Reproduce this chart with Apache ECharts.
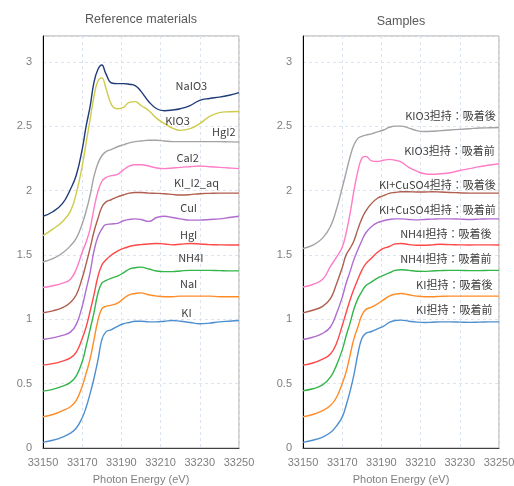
<!DOCTYPE html>
<html>
<head>
<meta charset="utf-8">
<script src="https://cdn.jsdelivr.net/npm/echarts@6/dist/echarts.min.js"></script>
<style>
  html, body { margin: 0; padding: 0; background: #fff; }
  #chart { width: 514px; height: 486px; }
</style>
</head>
<body>
<div id="chart"></div>
<script>
// photon energy grid (eV)
const energy = [33150,33155,33160,33164,33167,33170,33172,33174,33176,33178,33180,33182,33185,33188,33191,33194,33197,33200,33204,33208,33212,33216,33220,33225,33230,33235,33240,33245,33250];

// Reference materials (offset spectra, bottom to top)
const refNames = ['KI','NaI','NH4I','HgI','CuI','KI_I2_aq','CaI2','HgI2','KIO3','NaIO3'];
const refKI    = [0.044,0.06,0.085,0.115,0.155,0.235,0.315,0.42,0.54,0.68,0.84,0.90,0.92,0.945,0.965,0.975,0.985,0.985,0.98,0.98,0.985,0.99,0.985,0.975,0.965,0.97,0.98,0.985,0.99];
const refNaI   = [0.243,0.26,0.29,0.32,0.37,0.48,0.58,0.69,0.84,0.99,1.08,1.10,1.11,1.125,1.16,1.19,1.20,1.205,1.19,1.18,1.175,1.175,1.18,1.18,1.18,1.18,1.175,1.175,1.175];
const refNH4I  = [0.442,0.455,0.48,0.51,0.56,0.67,0.79,0.92,1.05,1.20,1.28,1.30,1.32,1.335,1.36,1.39,1.40,1.405,1.39,1.375,1.37,1.37,1.375,1.38,1.38,1.38,1.378,1.376,1.376];
const refHgI   = [0.644,0.655,0.675,0.70,0.745,0.85,0.94,1.06,1.19,1.33,1.42,1.46,1.50,1.53,1.55,1.565,1.575,1.58,1.585,1.588,1.585,1.578,1.582,1.588,1.585,1.58,1.578,1.577,1.577];
const refCuI   = [0.843,0.855,0.875,0.90,0.96,1.10,1.23,1.36,1.53,1.64,1.70,1.735,1.74,1.745,1.765,1.775,1.78,1.775,1.76,1.79,1.80,1.79,1.78,1.77,1.77,1.775,1.78,1.79,1.80];
const refKII2  = [1.05,1.065,1.09,1.13,1.19,1.32,1.43,1.55,1.68,1.78,1.87,1.91,1.93,1.95,1.965,1.98,1.985,1.985,1.98,1.978,1.975,1.97,1.965,1.968,1.975,1.978,1.98,1.98,1.98];
const refCaI2  = [1.247,1.26,1.28,1.31,1.39,1.52,1.60,1.70,1.86,1.99,2.07,2.10,2.115,2.125,2.16,2.19,2.20,2.20,2.19,2.175,2.17,2.175,2.18,2.185,2.19,2.185,2.18,2.175,2.17];
const refHgI2  = [1.445,1.47,1.515,1.57,1.63,1.74,1.84,1.96,2.11,2.21,2.27,2.30,2.32,2.34,2.355,2.37,2.38,2.385,2.39,2.39,2.385,2.38,2.38,2.38,2.38,2.38,2.38,2.378,2.376];
const refKIO3  = [1.65,1.70,1.76,1.84,1.98,2.19,2.37,2.55,2.73,2.85,2.875,2.80,2.665,2.635,2.645,2.685,2.69,2.66,2.62,2.56,2.52,2.485,2.467,2.48,2.52,2.575,2.605,2.612,2.614];
const refNaIO3 = [1.80,1.835,1.90,2.01,2.12,2.32,2.50,2.65,2.84,2.94,2.975,2.91,2.835,2.83,2.83,2.825,2.815,2.77,2.69,2.635,2.62,2.625,2.635,2.66,2.70,2.715,2.725,2.74,2.76];

// Samples (bottom to top)
const smpNames = ['KI担持：吸着前','KI担持：吸着後','NH4I担持：吸着前','NH4I担持：吸着後','KI+CuSO4担持：吸着前','KI+CuSO4担持：吸着後','KIO3担持：吸着前','KIO3担持：吸着後'];
const smpKIBefore    = [0.044,0.06,0.085,0.12,0.17,0.24,0.33,0.44,0.57,0.73,0.85,0.89,0.905,0.925,0.945,0.975,0.99,0.993,0.985,0.978,0.975,0.977,0.98,0.98,0.978,0.976,0.978,0.98,0.98];
const smpKIAfter     = [0.243,0.26,0.29,0.33,0.39,0.50,0.59,0.72,0.85,0.94,1.03,1.075,1.095,1.12,1.15,1.18,1.195,1.20,1.19,1.18,1.175,1.175,1.178,1.18,1.18,1.18,1.18,1.18,1.18];
const smpNH4IBefore  = [0.445,0.46,0.49,0.55,0.64,0.76,0.87,0.97,1.08,1.16,1.215,1.26,1.29,1.32,1.34,1.36,1.38,1.385,1.38,1.373,1.372,1.375,1.378,1.38,1.38,1.378,1.378,1.38,1.38];
const smpNH4IAfter   = [0.644,0.66,0.69,0.73,0.81,0.95,1.05,1.15,1.235,1.31,1.38,1.43,1.475,1.52,1.55,1.565,1.585,1.588,1.58,1.575,1.575,1.578,1.582,1.58,1.578,1.577,1.578,1.578,1.577];
const smpCuBefore    = [0.843,0.86,0.89,0.94,1.04,1.17,1.28,1.37,1.465,1.54,1.61,1.67,1.72,1.75,1.765,1.775,1.78,1.78,1.775,1.772,1.775,1.778,1.78,1.78,1.778,1.775,1.778,1.78,1.78];
const smpCuAfter     = [1.05,1.07,1.10,1.16,1.27,1.40,1.50,1.55,1.61,1.70,1.78,1.84,1.90,1.94,1.96,1.978,1.985,1.99,1.99,1.988,1.988,1.99,1.988,1.985,1.982,1.98,1.98,1.98,1.98];
const smpKIO3Before  = [1.25,1.27,1.31,1.41,1.48,1.56,1.67,1.82,2.00,2.15,2.25,2.265,2.23,2.225,2.235,2.242,2.235,2.222,2.18,2.15,2.13,2.126,2.13,2.138,2.155,2.17,2.185,2.198,2.208];
const smpKIO3After   = [1.55,1.575,1.63,1.72,1.85,2.02,2.14,2.26,2.355,2.405,2.42,2.43,2.44,2.455,2.47,2.49,2.50,2.50,2.485,2.465,2.458,2.46,2.465,2.47,2.475,2.48,2.485,2.487,2.488];

const refSeries = [refKI, refNaI, refNH4I, refHgI, refCuI, refKII2, refCaI2, refHgI2, refKIO3, refNaIO3];
const smpSeries = [smpKIBefore, smpKIAfter, smpNH4IBefore, smpNH4IAfter, smpCuBefore, smpCuAfter, smpKIO3Before, smpKIO3After];

const xTicks = [33150, 33250, 20];
const yTicks = [0, 3.2, 0.5];

// colours per series, bottom to top
const refColors = ['#4f8fcf','#ff8c26','#33b54a','#ff4747','#b06ccf','#b05e4e','#ff7cc6','#a3a3a3','#cccc4a','#1f3b7a'];
const smpColors = ['#4f8fcf','#ff8c26','#33b54a','#ff4747','#b06ccf','#b05e4e','#ff7cc6','#a3a3a3'];

// label anchors (data coords)
const refLabelAt = [[33223.2,1.05],[33224.3,1.278],[33225.4,1.479],[33224.3,1.652],[33224.3,1.867],[33228.3,2.058],[33223.8,2.252],[33242.2,2.454],[33218.6,2.545],[33225.7,2.816]];
const smpLabelAt = [[33246.9,1.076],[33246.9,1.265],[33246.4,1.466],[33246.4,1.666],[33248.6,1.852],[33248.6,2.048],[33248.1,2.306],[33248.6,2.578]];

function makeX (idx) {
  return {
    type: 'value', gridIndex: idx,
    min: xTicks[0], max: xTicks[1], interval: xTicks[2],
    axisLine: { show: true, onZero: false, lineStyle: { color: '#404040', width: 1 } },
    axisTick: { show: false },
    axisLabel: { color: '#7f7f7f', fontSize: 11, margin: 9, formatter: function (v) { return String(v) } },
    splitLine: { show: true, lineStyle: { color: '#dbe5f1', type: [3, 3] } },
    name: 'Photon Energy (eV)', nameLocation: 'middle', nameGap: 26,
    nameTextStyle: { color: '#7f7f7f', fontSize: 11 }
  }
}

function makeY (idx) {
  return {
    type: 'value', gridIndex: idx,
    min: yTicks[0], max: yTicks[1], interval: yTicks[2],
    axisLine: { show: true, lineStyle: { color: '#000', width: 1 } },
    axisTick: { show: false },
    axisLabel: { color: '#7f7f7f', fontSize: 11, margin: 11, showMaxLabel: false },
    splitLine: { show: true, lineStyle: { color: '#dbe5f1', type: [3, 3] } }
  }
}

function makeLines (list, names, colors, labelAt, idx, rightAlign) {
  return list.map(function (vals, i) {
    return {
      name: names[i], type: 'line',
      xAxisIndex: idx, yAxisIndex: idx,
      data: energy.map(function (e, k) { return [e, vals[k]] }),
      showSymbol: false, smooth: 0.45,
      lineStyle: { color: colors[i], width: 1.4 },
      itemStyle: { color: colors[i] },
      markPoint: {
        silent: true, symbol: 'circle', symbolSize: 1,
        itemStyle: { color: 'rgba(0,0,0,0)' },
        label: {
          show: true, formatter: names[i],
          position: rightAlign ? 'left' : 'inside', distance: 0,
          color: '#404040', fontSize: 11,
          fontFamily: 'Noto Sans CJK JP'
        },
        data: [{ coord: labelAt[i] }]
      }
    }
  })
}

let chart = echarts.init(document.getElementById('chart'))
let option = {
  animation: false,
  backgroundColor: '#fff',
  textStyle: { fontFamily: 'Liberation Sans, Arial, sans-serif' },
  title: [
    { text: 'Reference materials', left: 141, top: 13, textAlign: 'center', padding: 0,
      textStyle: { color: '#595959', fontSize: 12.5, fontWeight: 'normal' } },
    { text: 'Samples', left: 401, top: 15, textAlign: 'center', padding: 0,
      textStyle: { color: '#595959', fontSize: 12.5, fontWeight: 'normal' } }
  ],
  grid: [
    { left: 43, right: 275, top: 36, bottom: 38, show: true, borderColor: '#a6a6a6', borderWidth: 1, outerBoundsMode: 'none', containLabel: false },
    { left: 303, right: 15, top: 36, bottom: 38, show: true, borderColor: '#a6a6a6', borderWidth: 1, outerBoundsMode: 'none', containLabel: false }
  ],
  xAxis: [makeX(0), makeX(1)],
  yAxis: [makeY(0), makeY(1)],
  series: makeLines(refSeries, refNames, refColors, refLabelAt, 0, false)
    .concat(makeLines(smpSeries, smpNames, smpColors, smpLabelAt, 1, true))
}
chart.setOption(option)
</script>
</body>
</html>
